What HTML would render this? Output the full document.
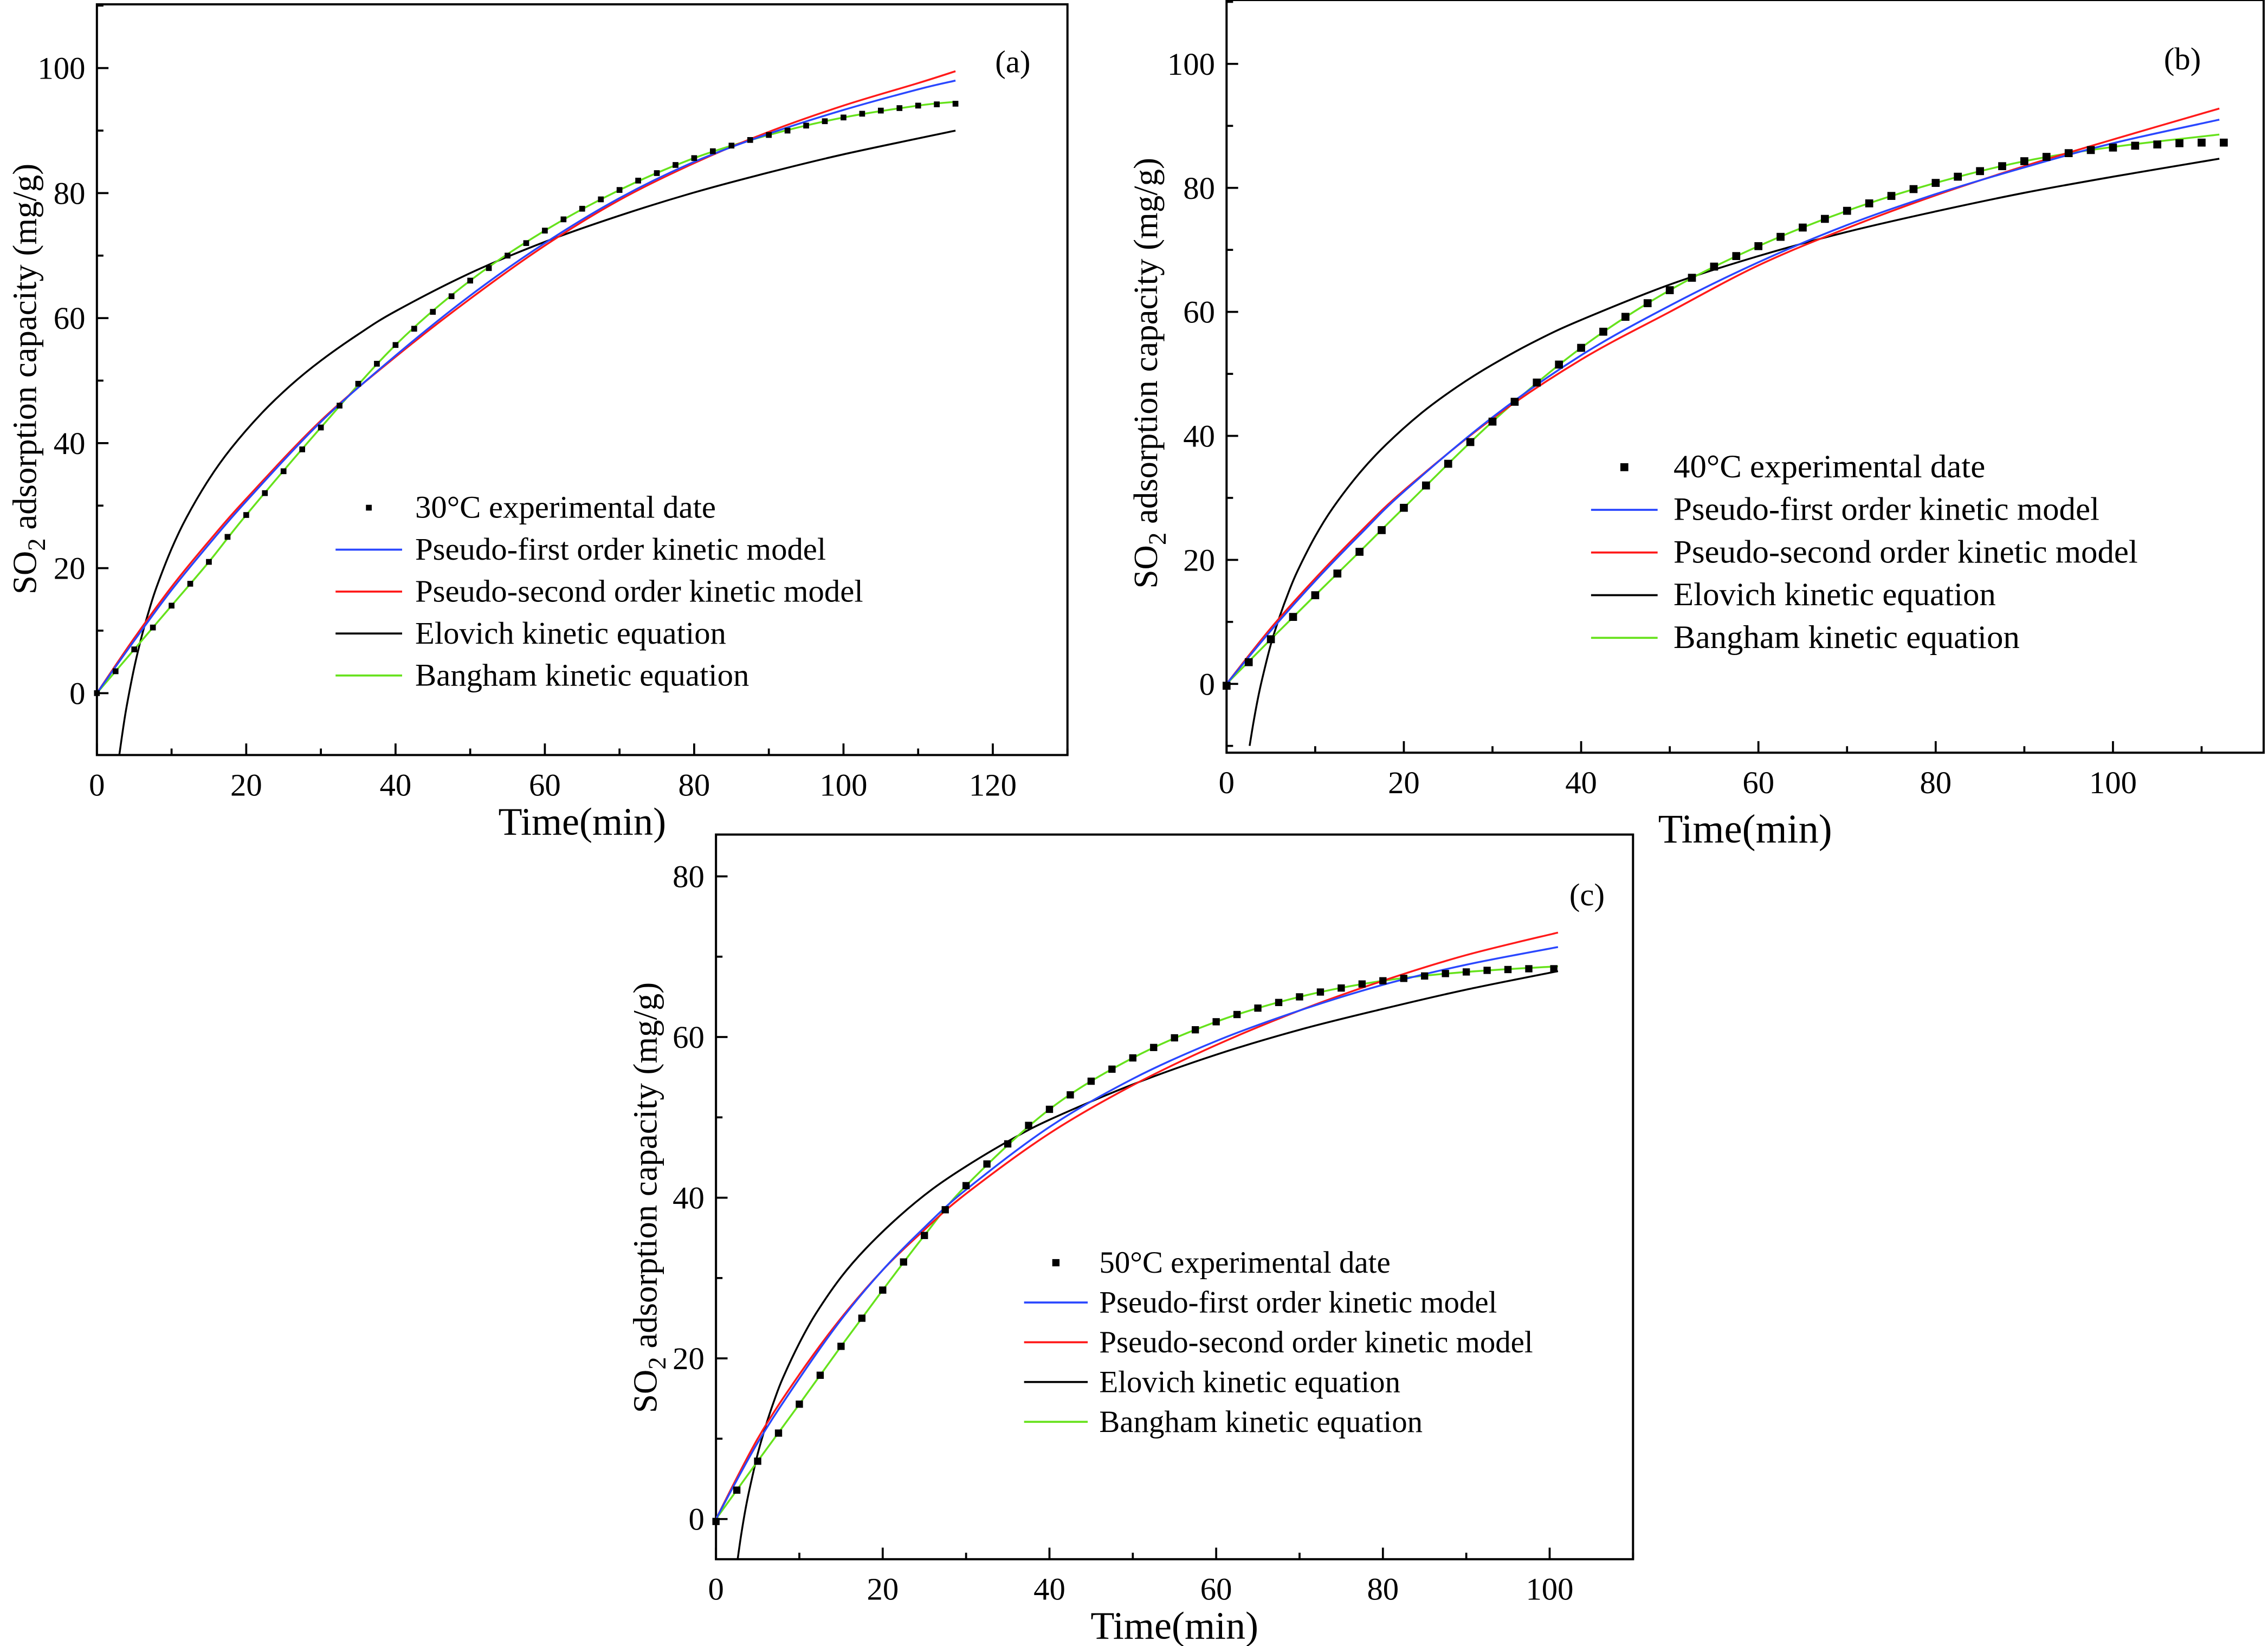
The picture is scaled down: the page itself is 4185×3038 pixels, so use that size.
<!DOCTYPE html>
<html><head><meta charset="utf-8"><style>
html,body{margin:0;padding:0;background:#fff}
svg{display:block}
text{font-family:"Liberation Serif",serif;fill:#000}
</style></head><body>
<svg id="chart" width="4185" height="3038" viewBox="0 0 1568 1138" preserveAspectRatio="none" xmlns="http://www.w3.org/2000/svg"></svg>
<script>
// ---------- Panel (a) data ----------
const aExpX=[0,2.5,5,7.5,10,12.5,15,17.5,20,22.5,25,27.5,30,32.5,35,37.5,40,42.5,45,47.5,50,52.5,55,57.5,60,62.5,65,67.5,70,72.5,75,77.5,80,82.5,85,87.5,90,92.5,95,97.5,100,102.5,105,107.5,110,112.5,115];
const aExpY=[0,3.5,7,10.5,14,17.5,21,25,28.5,32,35.5,39,42.5,46,49.5,52.7,55.7,58.3,61,63.5,66,68,70,72,74,75.8,77.5,79,80.5,82,83.2,84.5,85.6,86.7,87.6,88.5,89.3,90,90.8,91.5,92.1,92.7,93.2,93.6,94,94.2,94.3];
const aFitX=[0,5,10,15,20,30,40,50,60,70,80,90,100,110,115];
const aBlue=[0,8.4,16.5,23.8,30.7,43.4,54,63.6,72,79.2,85,89.5,93.3,96.6,98];
const aRed=[0,8.8,17,24.3,31.1,43.6,53.8,63.1,71.6,78.9,84.8,89.8,94,97.6,99.5];
const aGreen=[0,7,14,21,28.5,42.5,55.7,66,74,80.5,85.6,89.3,92.1,94,94.6];
const aElovX=[3,3.5,4,5,6,7,8,10,12,15,18,22,26,30,35,40,50,60,70,80,90,100,115];
const aElovY=[-9.9,-5.7,-2,4.1,9.1,13.3,17,23.1,28.1,34.2,39.2,44.7,49.3,53.2,57.4,61.1,67.2,72.2,76.4,80.1,83.3,86.2,90];
const aXTicks=[0,20,40,60,80,100,120];
const aYTicks=[0,20,40,60,80,100];
// ---------- Panel (b) data ----------
const bExpX=[0,2.5,5,7.5,10,12.5,15,17.5,20,22.5,25,27.5,30,32.5,35,37.5,40,42.5,45,47.5,50,52.5,55,57.5,60,62.5,65,67.5,70,72.5,75,77.5,80,82.5,85,87.5,90,92.5,95,97.5,100,102.5,105,107.5,110,112.5];
const bExpY=[-0.3,3.5,7.2,10.8,14.3,17.8,21.3,24.8,28.4,32,35.5,39,42.3,45.5,48.6,51.5,54.2,56.8,59.2,61.4,63.5,65.5,67.3,69,70.6,72.1,73.6,75,76.3,77.5,78.7,79.8,80.8,81.8,82.7,83.5,84.3,85,85.6,86.1,86.5,86.8,87,87.2,87.3,87.3];
const bFitX=[0,5,10,15,20,30,40,50,60,70,80,90,100,112];
const bBlue=[0,8.6,16.6,24,31,43,53,61,68,74,79,83.3,87.2,91];
const bRed=[0,9,17,24.4,31.2,42.8,52.3,60,67.5,73.5,78.8,83.5,87.8,92.8];
const bGreen=[0,7.2,14.3,21.3,28.4,42.3,54.2,63.5,70.6,76.3,80.8,84.3,86.6,88.6];
const bElovX=[2.6,3,3.5,4,5,6,7,8,10,12,15,18,22,26,30,35,40,50,60,70,80,90,100,112];
const bElovY=[-10,-6.5,-2.6,0.7,6.4,10.9,14.8,18.2,23.8,28.4,34,38.6,43.7,47.9,51.5,55.4,58.7,64.4,69,72.9,76.2,79.2,81.8,84.7];
const bXTicks=[0,20,40,60,80,100];
const bYTicks=[0,20,40,60,80,100];
// ---------- Panel (c) data ----------
const cExpX=[0,2.5,5,7.5,10,12.5,15,17.5,20,22.5,25,27.5,30,32.5,35,37.5,40,42.5,45,47.5,50,52.5,55,57.5,60,62.5,65,67.5,70,72.5,75,77.5,80,82.5,85,87.5,90,92.5,95,97.5,100.5];
const cExpY=[-0.3,3.6,7.2,10.7,14.3,17.9,21.5,25,28.5,32,35.3,38.5,41.5,44.2,46.7,49,51,52.8,54.5,56,57.4,58.7,59.9,60.9,61.9,62.8,63.6,64.3,65,65.6,66.1,66.6,67,67.3,67.6,67.9,68.1,68.3,68.4,68.5,68.5];
const cFitX=[0,5,10,15,20,25,30,40,50,60,70,80,90,101];
const cBlue=[0,9.5,17.5,24.8,31,36.3,41,48.8,54.8,59.5,63.3,66.5,69,71.2];
const cRed=[0,10,18,25,31,36,40.5,48,54,59,63.3,67,70.2,73];
const cGreen=[0,7.2,14.3,21.5,28.5,35.3,41.5,51,57.4,61.9,65,67,68.1,68.8];
const cElovX=[2.6,3,3.5,4,5,6,7,8,10,12,15,18,22,26,30,35,40,50,60,70,80,90,101];
const cElovY=[-5,-2.1,1,3.6,8.1,11.7,14.8,17.5,21.9,25.6,30.1,33.7,37.7,41.1,43.9,47,49.7,54.1,57.8,60.9,63.5,65.9,68.2];
const cXTicks=[0,20,40,60,80,100];
const cYTicks=[0,20,40,60,80];

const NS="http://www.w3.org/2000/svg";
const svg=document.getElementById('chart');
function mk(tag,attrs,parent){const e=document.createElementNS(NS,tag);for(const k in attrs)e.setAttribute(k,attrs[k]);(parent||svg).appendChild(e);return e;}
function smooth(pts){let d='M'+pts[0][0].toFixed(2)+','+pts[0][1].toFixed(2);
 for(let i=0;i<pts.length-1;i++){const p0=pts[Math.max(0,i-1)],p1=pts[i],p2=pts[i+1],p3=pts[Math.min(pts.length-1,i+2)];
  const c1=[p1[0]+(p2[0]-p0[0])/6,p1[1]+(p2[1]-p0[1])/6],c2=[p2[0]-(p3[0]-p1[0])/6,p2[1]-(p3[1]-p1[1])/6];
  d+='C'+c1[0].toFixed(2)+','+c1[1].toFixed(2)+' '+c2[0].toFixed(2)+','+c2[1].toFixed(2)+' '+p2[0].toFixed(2)+','+p2[1].toFixed(2);}
 return d;}

function panel(cfg){
 const g=mk('g',{});
 
 
 const sx=v=>cfg.L+(v-cfg.xmin)/(cfg.xmax-cfg.xmin)*(cfg.R-cfg.L);
 const sy=v=>cfg.B-(v-cfg.ymin)/(cfg.ymax-cfg.ymin)*(cfg.B-cfg.T);
 const cid='clip-'+cfg.id;
 const cp=mk('clipPath',{id:cid},g);mk('rect',{x:cfg.L,y:cfg.T,width:cfg.R-cfg.L,height:cfg.B-cfg.T},cp);
 const ax=mk('g',{stroke:'#000','stroke-width':1.4},g);
 
 
 const xs=(cfg.xt[1]-cfg.xt[0])/2;
 for(let v=Math.ceil(cfg.xmin/xs)*xs;v<=cfg.xmax+1e-6;v+=xs){const major=Math.round(v/xs)%2===0;
  mk('line',{x1:sx(v),x2:sx(v),y1:cfg.B,y2:cfg.B-(major?8:4.5)},ax);}
 const ys=(cfg.yt[1]-cfg.yt[0])/2;
 for(let v=Math.ceil(cfg.ymin/ys)*ys;v<=cfg.ymax+1e-6;v+=ys){const major=Math.abs(Math.round(v/ys))%2===0;
  mk('line',{x1:cfg.L,x2:cfg.L+(major?8:4.5),y1:sy(v),y2:sy(v)},ax);}
 mk('rect',{x:cfg.L,y:cfg.T,width:cfg.R-cfg.L,height:cfg.B-cfg.T,fill:'none',stroke:'#000','stroke-width':1.5},g);
 cfg.xt.forEach(v=>{const t=mk('text',{x:sx(v),y:cfg.B+28,'font-size':cfg.tf,'text-anchor':'middle'},g);t.textContent=v;
  
  });
 cfg.yt.forEach(v=>{const t=mk('text',{x:cfg.L-8,y:sy(v)+7.5,'font-size':cfg.tf,'text-anchor':'end'},g);t.textContent=v;
  
  });
 const cg=mk('g',{'clip-path':'url(#'+cid+')',fill:'none','stroke-width':1.3},g);
 const series=[[cfg.elx,cfg.ely,'#000','elovich-curve'],[cfg.fx,cfg.green,'#66e21c','bangham-curve'],[cfg.fx,cfg.red,'#ff1a1a','pseudo-second-order-curve'],[cfg.fx,cfg.blue,'#2a47ff','pseudo-first-order-curve']];
 series.forEach(s=>{const p=mk('path',{d:smooth(s[0].map((x,i)=>[sx(x),sy(s[1][i])])),stroke:s[2]},cg);
  
  });
 cfg.ex.forEach((x,i)=>{const r=mk('rect',{x:sx(x)-cfg.ms/2,y:sy(cfg.ey[i])-cfg.ms/2,width:cfg.ms,height:cfg.ms,fill:'#000'},g);
  
  });
 const xl=mk('text',{x:(cfg.L+cfg.R)/2,y:cfg.B+cfg.xly,'font-size':cfg.lf,'text-anchor':'middle'},g);xl.textContent='Time(min)';
 
 
 const yl=mk('text',{x:0,y:0,'font-size':cfg.yf,'text-anchor':'middle',transform:'translate('+cfg.ylx+','+cfg.ylc+') rotate(-90)'},g);
 yl.innerHTML='SO<tspan dy="6" font-size="'+(cfg.yf*0.75)+'">2</tspan><tspan dy="-6"> adsorption capacity (mg/g)</tspan>';
 
 
 const pl=mk('text',{x:cfg.plx,y:cfg.ply,'font-size':cfg.tf},g);pl.textContent=cfg.label;
 
 
 const lg=mk('g',{},g);
 
 
 const le=[['m',cfg.temp+'°C experimental date'],['#2a47ff','Pseudo-first order kinetic model'],['#ff1a1a','Pseudo-second order kinetic model'],['#000','Elovich kinetic equation'],['#66e21c','Bangham kinetic equation']];
 le.forEach((e,i)=>{const y=cfg.lgy+i*cfg.lgd;
  const it=mk('g',{},lg);
  
  
  if(e[0]==='m')mk('rect',{x:(cfg.lgx1+cfg.lgx2)/2-cfg.ms/2,y:y-cfg.ms/2,width:cfg.ms,height:cfg.ms,fill:'#000'},it);
  else mk('line',{x1:cfg.lgx1,x2:cfg.lgx2,y1:y,y2:y,stroke:e[0],'stroke-width':1.4},it);
  const t=mk('text',{x:cfg.lgt,y:y+7,'font-size':cfg.lgf},it);t.textContent=e[1];});
}

panel({id:'a',L:67,R:738,T:3,B:522,xmin:0,xmax:130,ymin:-9.9,ymax:110.2,xt:aXTicks,yt:aYTicks,
 ex:aExpX,ey:aExpY,fx:aFitX,blue:aBlue,red:aRed,green:aGreen,elx:aElovX,ely:aElovY,
 tf:22,lf:27,yf:23.5,ylx:25,ylc:262,xly:55,plx:688,ply:50,label:'(a)',temp:30,ms:4,
 lgx1:232,lgx2:278,lgt:287,lgy:351,lgd:29,lgf:22});
panel({id:'b',L:848,R:1565,T:0,B:520.4,xmin:0,xmax:117,ymin:-11.1,ymax:110.3,xt:bXTicks,yt:bYTicks,
 ex:bExpX,ey:bExpY,fx:bFitX,blue:bBlue,red:bRed,green:bGreen,elx:bElovX,ely:bElovY,
 tf:22,lf:28,yf:23.5,ylx:800,ylc:258,xly:62,plx:1496,ply:48,label:'(b)',temp:40,ms:5.5,
 lgx1:1100,lgx2:1146,lgt:1157,lgy:323,lgd:29.5,lgf:22.8});
panel({id:'c',L:495,R:1129,T:577,B:1078,xmin:0,xmax:110,ymin:-5,ymax:85.2,xt:cXTicks,yt:cYTicks,
 ex:cExpX,ey:cExpY,fx:cFitX,blue:cBlue,red:cRed,green:cGreen,elx:cElovX,ely:cElovY,
 tf:22,lf:27,yf:23.5,ylx:454,ylc:828,xly:55,plx:1085,ply:626,label:'(c)',temp:50,ms:5,
 lgx1:708,lgx2:752,lgt:760,lgy:873,lgd:27.5,lgf:21.3});
</script>
</body></html>
